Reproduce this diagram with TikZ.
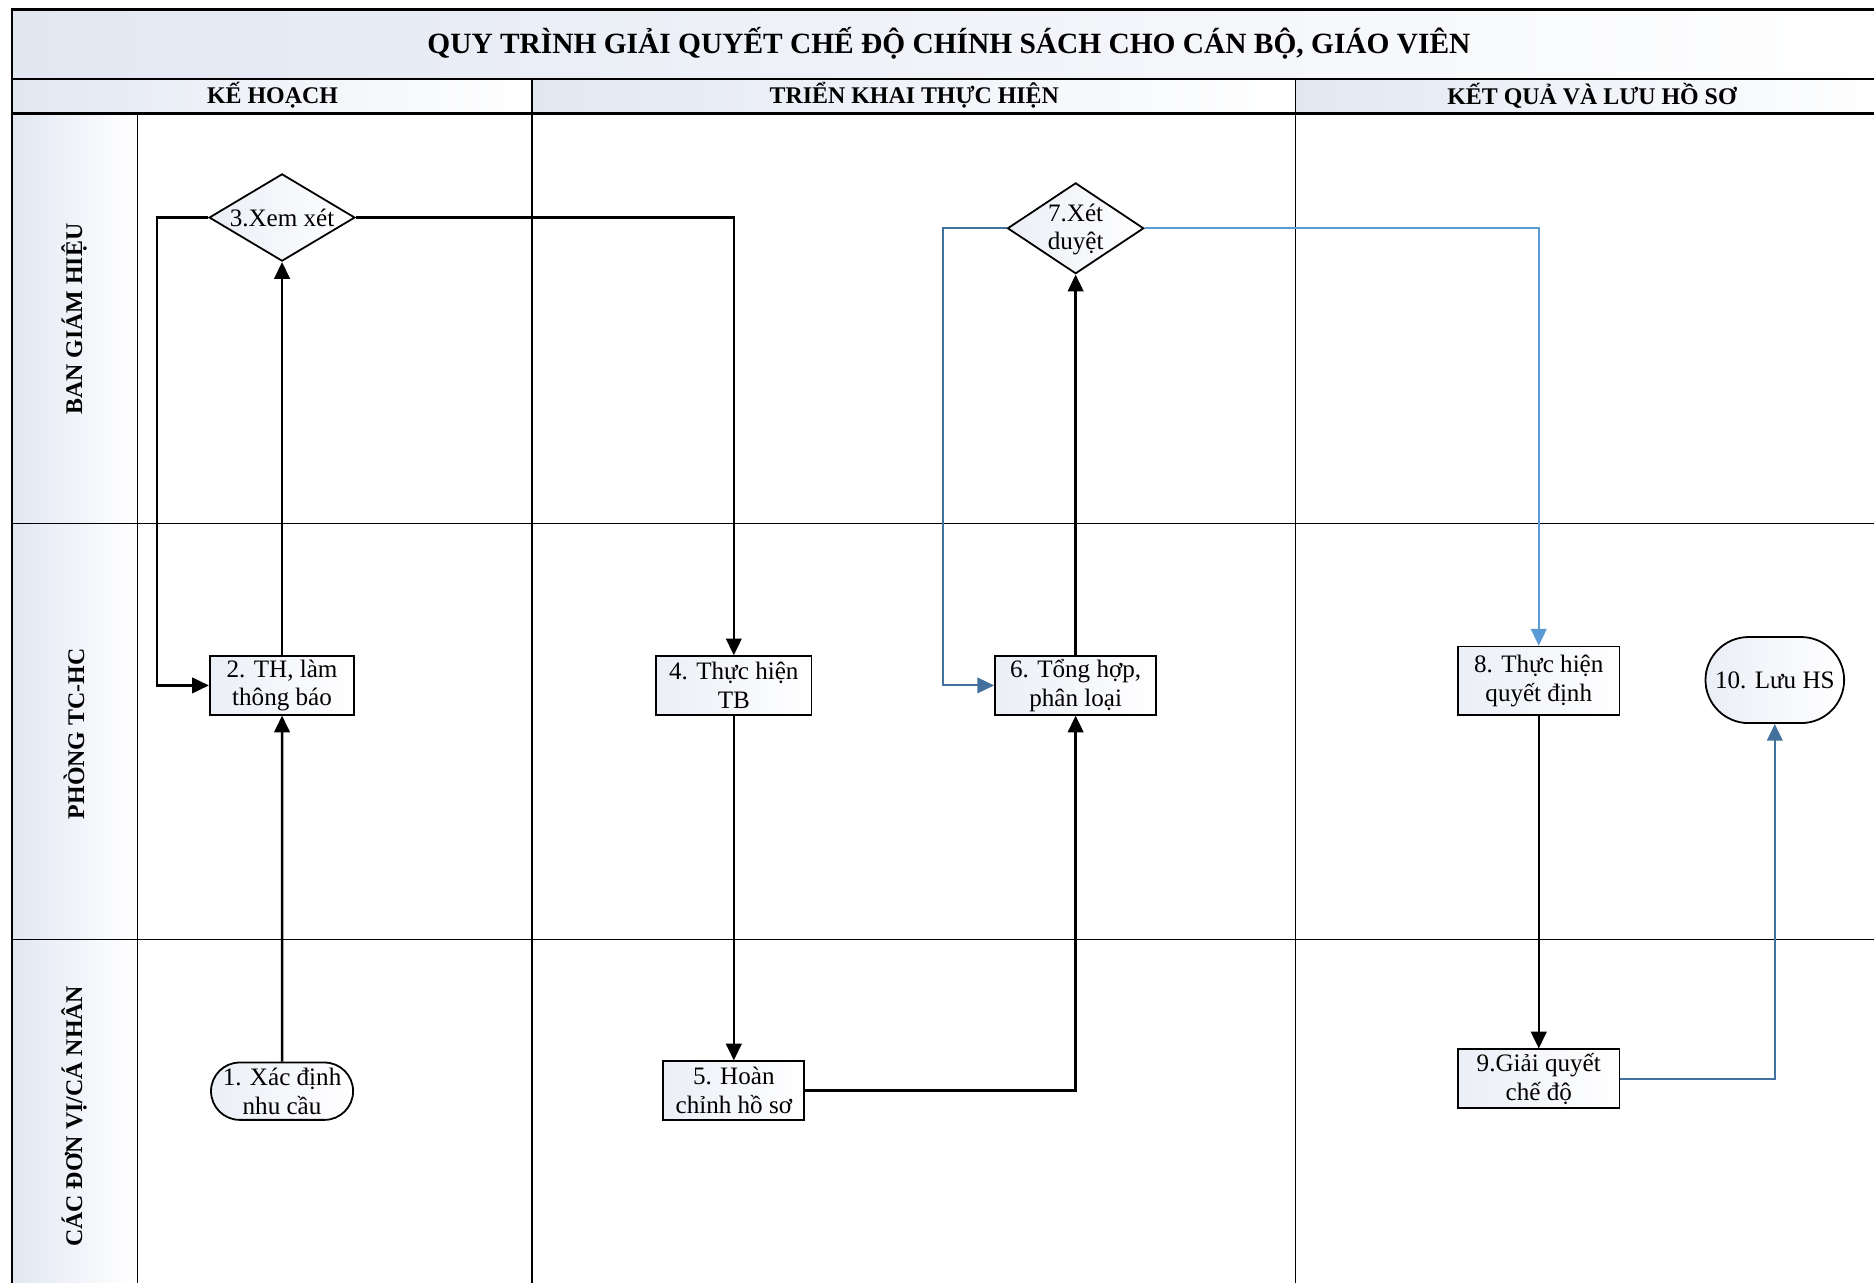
\documentclass[tikz,border=0pt]{standalone}
\usepackage{fontspec}
\setmainfont{Liberation Serif}
\usetikzlibrary{arrows.meta,shapes.geometric,shapes.misc,calc}
\definecolor{lblue}{HTML}{E2E7F2}
\definecolor{dblue}{HTML}{41719C}
\definecolor{sblue}{HTML}{5B9BD5}
\begin{document}
\begin{tikzpicture}[x=0.5pt,y=-0.5pt,
  cellshade/.style={left color=lblue,right color=white,draw=none},
  gridline/.style={line width=0.65pt,black},
  thickline/.style={line width=1pt,black},
  boxfill/.style={left color=lblue!70,right color=white},
  nodetext/.style={font=\fontsize{10.5}{12}\selectfont,align=center},
  procbox/.style={draw,line width=0.75pt,rectangle,boxfill,nodetext,inner sep=0pt,minimum height=24.5pt},
  termbox/.style={draw,line width=0.75pt,rounded rectangle,boxfill,nodetext,inner sep=0pt},
  decbox/.style={draw,line width=0.75pt,diamond,boxfill,inner sep=0pt},
  plain/.style={nodetext,inner sep=0pt},
  conn/.style={line width=1pt,-{Triangle[length=7pt,width=6.5pt]}},
  bconn/.style={line width=0.85pt,-{Triangle[length=7pt,width=6.5pt]}},
  headtext/.style={font=\fontsize{10}{12}\selectfont\bfseries},
  lanetext/.style={font=\fontsize{10}{12}\selectfont\bfseries,rotate=90}
]
\useasboundingbox (0,0) rectangle (1568,1073);
\clip (0,0) rectangle (1568,1073);
\fill[white] (0,0) rectangle (1568,1073);
% backgrounds
\path[cellshade] (10,8) rectangle (1578,66);
\path[cellshade] (10,66) rectangle (445,95);
\path[cellshade] (445,66) rectangle (1084,95);
\path[cellshade] (1084,66) rectangle (1578,95);
\path[cellshade] (10,95) rectangle (115,438);
\path[cellshade] (10,438) rectangle (115,786);
\path[cellshade] (10,786) rectangle (115,1090);
% grid
\draw[gridline] (445,66) -- (445,1090);
\draw[gridline] (1084,66) -- (1084,1090);
\draw[gridline] (115,95) -- (115,1090);
\draw[gridline] (10,438) -- (1578,438);
\draw[gridline] (10,786) -- (1578,786);
\draw[thickline] (10,66) -- (1578,66);
\draw[thickline] (10,95) -- (1578,95);
\draw[thickline] (10,8) rectangle (1578,1090);
% titles
\node[font=\fontsize{12.3}{14}\selectfont\bfseries] (title) at (794,36) {QUY TRÌNH GIẢI QUYẾT CHẾ ĐỘ CHÍNH SÁCH CHO CÁN BỘ, GIÁO VIÊN};
\node[headtext] (h1) at (228,80) {KẾ HOẠCH};
\node[headtext] (h2) at (765,80) {TRIỂN KHAI THỰC HIỆN};
\node[headtext] (h3) at (1332,80) {KẾT QUẢ VÀ LƯU HỒ SƠ};
\node[lanetext] (l1) at (62,267) {BAN GIÁM HIỆU};
\node[lanetext] (l2) at (62,614) {PHÒNG TC-HC};
\node[lanetext] (l3) at (62,934) {CÁC ĐƠN VỊ/CÁ NHÂN};
% nodes
\node[termbox,minimum width=58.5pt,minimum height=24pt] (n1) at (236,913) {1. Xác định\\nhu cầu};
\node[procbox,minimum width=60.5pt] (n2) at (236,573.5) {2. TH, làm\\thông báo};
\node[decbox,minimum width=61pt,minimum height=36.5pt] (n3) at (236,182) {};
\node[plain] (n3t) at (236,182) {3.Xem xét};
\node[procbox,minimum width=65pt] (n4) at (614,573.5) {4. Thực hiện\\TB};
\node[procbox,minimum width=59pt] (n5) at (614,912.5) {5. Hoàn\\chỉnh hồ sơ};
\node[procbox,minimum width=67.5pt] (n6) at (900,573.5) {6. Tổng hợp,\\phân loại};
\node[decbox,minimum width=57pt,minimum height=38pt] (n7) at (900,191) {};
\node[plain] (n7t) at (900,192) {7.Xét\\duyệt};
\node[procbox,minimum width=67.5pt,minimum height=28.5pt] (n8) at (1287.5,569.5) {8. Thực hiện\\quyết định};
\node[procbox,minimum width=67.5pt] (n9) at (1287.5,902.5) {9.Giải quyết\\chế độ};
\node[termbox,minimum width=58pt,minimum height=36pt] (n10) at (1485,569) {10. Lưu HS};
% connectors
\draw[conn] (n1) -- (n2);
\draw[conn] (n2) -- (n3);
\draw[conn] (n3.west) -- ++(-43,0) |- (n2.west);
\draw[conn] (n3.east) -| (n4.north);
\draw[conn] (n4) -- (n5);
\draw[conn] (n5.east) -| (n6.south);
\draw[conn] (n6) -- (n7);
\draw[bconn,dblue] (n7.west) -- ++(-53,0) |- (n6.west);
\draw[bconn,sblue] (n7.east) -| (n8.north);
\draw[conn] (n8) -- (n9);
\draw[bconn,dblue] (n9.east) -| (n10.south);
\end{tikzpicture}
\end{document}
